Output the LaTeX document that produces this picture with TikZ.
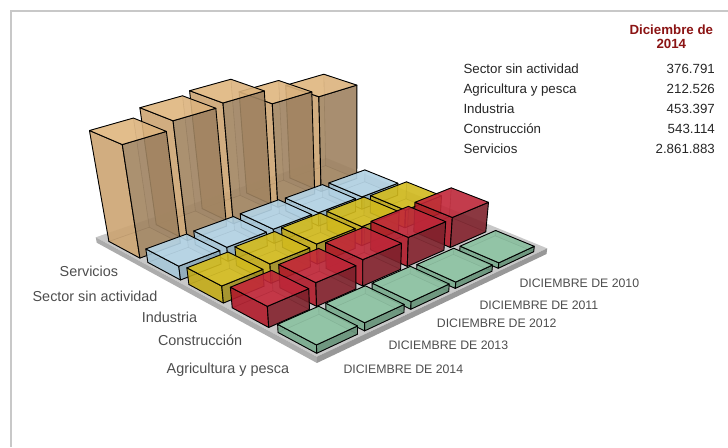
\documentclass[tikz,border=0pt]{standalone}
\usepackage{fontspec}
\setmainfont{Liberation Sans}

\definecolor{frameGray}{RGB}{200,200,200}
\definecolor{labelGray}{RGB}{77,77,77}
\definecolor{titleRed}{RGB}{139,20,20}
\definecolor{slabTop}{RGB}{200,200,200}
\definecolor{slabLeft}{RGB}{172,172,172}
\definecolor{slabRight}{RGB}{152,152,152}
% one colour set per row: 0 agricultura ... 4 servicios
\definecolor{barTop0}{RGB}{141,196,163}
\definecolor{barLeft0}{RGB}{118,168,138}
\definecolor{barRight0}{RGB}{98,142,116}
\definecolor{barTop1}{RGB}{196,40,58}
\definecolor{barLeft1}{RGB}{176,26,42}
\definecolor{barRight1}{RGB}{126,34,44}
\definecolor{barTop2}{RGB}{214,190,30}
\definecolor{barLeft2}{RGB}{194,170,24}
\definecolor{barRight2}{RGB}{158,140,32}
\definecolor{barTop3}{RGB}{182,214,232}
\definecolor{barLeft3}{RGB}{166,198,216}
\definecolor{barRight3}{RGB}{138,168,184}
\definecolor{barTop4}{RGB}{226,184,128}
\definecolor{barLeft4}{RGB}{204,164,114}
\definecolor{barRight4}{RGB}{158,130,96}

\tikzset{
    frontface/.style={draw=black, line width=0.9, line join=round, fill opacity=0.82},
    backface/.style={draw=black, draw opacity=0.25, line width=0.6, fill opacity=0.45},
    axislabel/.style={text=labelGray, inner sep=0pt, font=\fontsize{14.4}{16}\selectfont},
    yearlabel/.style={text=labelGray, inner sep=0pt, font=\fontsize{12.3}{14}\selectfont},
    tabtext/.style={text=black!85, inner sep=0pt, font=\fontsize{13.3}{15}\selectfont},
    tabtitle/.style={text=titleRed, inner sep=0pt, font=\fontsize{13.3}{15}\selectfont\bfseries}
}

% floor mapping and vertical scale
\def\flX{316.7}\def\flY{353.3}
\def\axX{48.8}\def\axY{-22.85}
\def\ayX{-49.4}\def\ayY{-26.6}
\def\dkx{0.0188}\def\dky{0.0294}
\def\crX{0.4}\def\crY{0.25}
\def\hscale{39}\def\hgrow{0.047}
\def\vpX{356}\def\vpY{1650}

% heights in millions, row by row, 2014 ... 2010
\def\barvals{{0.2125,0.21,0.20,0.17,0.15,0.543,0.62,0.70,0.78,0.82,0.453,0.52,0.55,0.53,0.50,0.377,0.39,0.40,0.38,0.36,2.862,3.05,3.12,2.77,2.60}}

\newcommand{\projpt}[4]{%
  \pgfmathsetmacro\pDn{1+\dkx*(#2)+\dky*(#3)}%
  \pgfmathsetmacro\pSx{\flX+(\axX*(#2)+\ayX*(#3))/\pDn+\crX*(#2)*(#3)}%
  \pgfmathsetmacro\pSy{\flY+(\axY*(#2)+\ayY*(#3))/\pDn+\crY*(#2)*(#3)}%
  \pgfmathsetmacro\pH{\hscale*(#4)/(\pDn-\hgrow*(#4))}%
  \pgfmathsetmacro\pTilt{(\pSx-\vpX)/(\vpY-\pSy)}%
  \pgfmathsetmacro\pX{\pSx+\pH*\pTilt}%
  \pgfmathsetmacro\pY{\pSy-\pH}%
  \coordinate (#1) at (\pX,-\pY);%
}

\newcommand{\drawbar}[4]{%
  \pgfmathsetmacro\cxa{#1}\pgfmathsetmacro\cxb{#1+0.85}%
  \pgfmathsetmacro\cya{#2}\pgfmathsetmacro\cyb{#2+0.8}%
  \projpt{p1}{\cxa}{\cya}{0}\projpt{p2}{\cxb}{\cya}{0}%
  \projpt{p3}{\cxb}{\cyb}{0}\projpt{p4}{\cxa}{\cyb}{0}%
  \projpt{q1}{\cxa}{\cya}{#3}\projpt{q2}{\cxb}{\cya}{#3}%
  \projpt{q3}{\cxb}{\cyb}{#3}\projpt{q4}{\cxa}{\cyb}{#3}%
  \filldraw[backface, fill=barTop#4] (p1) -- (p2) -- (p3) -- (p4) -- cycle;
  \filldraw[backface, fill=barRight#4] (p2) -- (p3) -- (q3) -- (q2) -- cycle;
  \filldraw[backface, fill=barLeft#4] (p4) -- (p3) -- (q3) -- (q4) -- cycle;
  \filldraw[frontface, fill=barLeft#4] (p1) -- (p4) -- (q4) -- (q1) -- cycle;
  \filldraw[frontface, fill=barRight#4] (p1) -- (p2) -- (q2) -- (q1) -- cycle;
  \filldraw[frontface, fill=barTop#4] (q1) -- (q2) -- (q3) -- (q4) -- cycle;
}

\begin{document}
\begin{tikzpicture}[x=1pt, y=1pt]
    \useasboundingbox (0,0) rectangle (728,-447);
    \draw[frameGray, line width=2.3] (728,-11.2) -- (11.3,-11.2) -- (11.3,-447);

    % floor slab
    \projpt{s1}{-0.07}{-0.07}{0}
    \projpt{s2}{5.1}{-0.07}{0}
    \projpt{s3}{5.1}{5.06}{0}
    \projpt{s4}{-0.07}{5.06}{0}
    \projpt{t1}{-0.07}{-0.07}{-0.16}
    \projpt{t2}{5.1}{-0.07}{-0.16}
    \projpt{t4}{-0.07}{5.06}{-0.16}
    \fill[slabTop] (s1) -- (s2) -- (s3) -- (s4) -- cycle;
    \fill[slabLeft] (s1) -- (s4) -- (t4) -- (t1) -- cycle;
    \fill[slabRight] (s1) -- (s2) -- (t2) -- (t1) -- cycle;

    % bars, back to front
    \foreach \sm in {8,...,0}{
        \foreach \col in {0,...,4}{
            \pgfmathtruncatemacro\row{\sm-\col}
            \ifnum\row>-1\relax\ifnum\row<5\relax
                \pgfmathsetmacro\bval{\barvals[5*\row+\col]}
                \drawbar{\col}{\row}{\bval}{\row}
            \fi\fi
        }
    }

    % row labels
    \node[axislabel, anchor=base east] (lblServ) at (118.3,-276.9) {Servicios};
    \node[axislabel, anchor=base east] (lblSin) at (157.7,-301.2) {Sector sin actividad};
    \node[axislabel, anchor=base east] (lblInd) at (197.3,-322.5) {Industria};
    \node[axislabel, anchor=base east] (lblCons) at (242.3,-345.9) {Construcción};
    \node[axislabel, anchor=base east] (lblAgri) at (289.3,-373.5) {Agricultura y pesca};

    % column labels
    \node[yearlabel, anchor=base west] (yr2010) at (519.3,-287.7) {DICIEMBRE DE 2010};
    \node[yearlabel, anchor=base west] (yr2011) at (479.3,-309.4) {DICIEMBRE DE 2011};
    \node[yearlabel, anchor=base west] (yr2012) at (436.7,-327.7) {DICIEMBRE DE 2012};
    \node[yearlabel, anchor=base west] (yr2013) at (388.3,-349.4) {DICIEMBRE DE 2013};
    \node[yearlabel, anchor=base west] (yr2014) at (343.3,-373.7) {DICIEMBRE DE 2014};

    % table
    \node[tabtitle, anchor=base] (tabHead) at (671.3,-34) {Diciembre de};
    \node[tabtitle, anchor=base] (tabYear) at (671.3,-48) {2014};
    \node[tabtext, anchor=base west] (nameSin) at (463.3,-73.1) {Sector sin actividad};
    \node[tabtext, anchor=base east] (valSin) at (715,-73.1) {376.791};
    \node[tabtext, anchor=base west] (nameAgri) at (463.3,-93.1) {Agricultura y pesca};
    \node[tabtext, anchor=base east] (valAgri) at (715,-93.1) {212.526};
    \node[tabtext, anchor=base west] (nameInd) at (463.3,-113.1) {Industria};
    \node[tabtext, anchor=base east] (valInd) at (715,-113.1) {453.397};
    \node[tabtext, anchor=base west] (nameCons) at (463.3,-133.1) {Construcción};
    \node[tabtext, anchor=base east] (valCons) at (715,-133.1) {543.114};
    \node[tabtext, anchor=base west] (nameServ) at (463.3,-153.1) {Servicios};
    \node[tabtext, anchor=base east] (valServ) at (715,-153.1) {2.861.883};
\end{tikzpicture}
\end{document}
